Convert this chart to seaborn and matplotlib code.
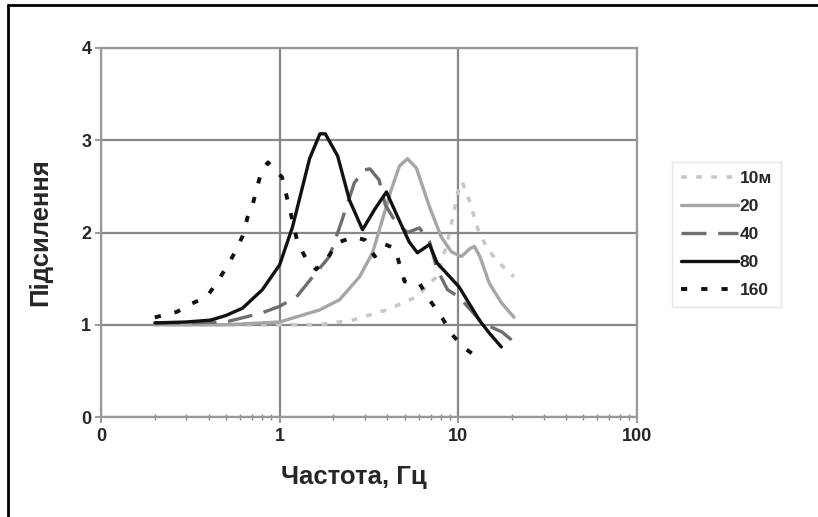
import numpy as np
import pandas as pd
import matplotlib
matplotlib.use("Agg")
import matplotlib.pyplot as plt
from matplotlib.lines import Line2D
from matplotlib.ticker import FixedLocator, FixedFormatter, LogLocator, NullFormatter
import seaborn as sns

# ---- data ----
series_names = ["10м", "20", "40", "80", "160"]

f_10 = [0.2, 0.5, 1.0, 1.67, 2.56, 3.96, 5.82, 7.54, 8.57, 9.25, 10.1, 10.5, 11.5, 12.8, 14.3, 16.3, 18.5, 20.5]
v_10 = [1.0, 1.0, 1.0, 1.0, 1.05, 1.16, 1.3, 1.52, 1.85, 2.14, 2.5, 2.55, 2.35, 2.05, 1.85, 1.7, 1.6, 1.52]

f_20 = [0.2, 0.5, 1.0, 1.67, 2.16, 2.8, 3.31, 3.76, 4.22, 4.68, 5.19, 5.82, 6.89, 8.03, 9.15, 10.4, 11.7, 12.3, 13.2, 14.9, 17.4, 20.5]
v_20 = [1.0, 1.0, 1.03, 1.16, 1.27, 1.52, 1.78, 2.14, 2.47, 2.72, 2.8, 2.7, 2.28, 1.95, 1.79, 1.74, 1.83, 1.85, 1.74, 1.45, 1.24, 1.08]

f_40 = [0.2, 0.3, 0.5, 0.8, 1.0, 1.24, 1.53, 1.9, 2.22, 2.62, 3.0, 3.2, 3.6, 3.9, 4.5, 5.2, 6.05, 6.9, 7.6, 8.7, 10.1, 13.6, 17.6, 20.0]
v_40 = [1.02, 1.02, 1.03, 1.13, 1.2, 1.3, 1.52, 1.74, 2.12, 2.54, 2.68, 2.69, 2.57, 2.3, 2.1, 2.0, 2.05, 1.9, 1.6, 1.38, 1.3, 1.02, 0.92, 0.83]

f_80 = [0.2, 0.3, 0.41, 0.5, 0.62, 0.8, 1.0, 1.18, 1.47, 1.68, 1.8, 2.11, 2.46, 2.91, 3.4, 3.96, 4.5, 5.3, 5.9, 6.9, 7.6, 10.1, 13.1, 14.9, 17.4]
v_80 = [1.02, 1.03, 1.05, 1.1, 1.18, 1.38, 1.65, 2.06, 2.8, 3.07, 3.07, 2.83, 2.35, 2.03, 2.25, 2.44, 2.2, 1.9, 1.78, 1.87, 1.67, 1.41, 1.05, 0.91, 0.76]

f_160 = [0.2, 0.266, 0.322, 0.39, 0.45, 0.506, 0.56, 0.62, 0.66, 0.71, 0.75, 0.79, 0.86, 1.03, 1.14, 1.26, 1.42, 1.6, 1.85, 2.1, 2.6, 3.0, 3.4, 3.9, 4.4, 4.7, 5.0, 6.05, 6.9, 8.15, 9.15, 10.8, 13.1]
v_160 = [1.08, 1.14, 1.23, 1.3, 1.47, 1.63, 1.78, 1.96, 2.16, 2.32, 2.5, 2.66, 2.76, 2.6, 2.25, 1.89, 1.7, 1.6, 1.72, 1.89, 1.95, 1.92, 1.74, 1.87, 1.83, 1.65, 1.47, 1.45, 1.27, 1.07, 0.9, 0.75, 0.63]

x_tick_values = [0.1, 1, 10, 100]
x_tick_labels = ["0", "1", "10", "100"]
y_tick_values = [0, 1, 2, 3, 4]

x_label = "Частота, Гц"
y_label = "Підсилення"

# ---- styling ----
sns.set_theme(style="white")
plt.rcParams["font.family"] = ["Liberation Sans", "DejaVu Sans"]
plt.rcParams["font.weight"] = "bold"

styles = {
    "10м": dict(color="#c8c8c8", lw=2.6, ls=(0, (1.6, 2.6))),
    "20": dict(color="#a6a6a6", lw=2.4, ls="-"),
    "40": dict(color="#6e6e6e", lw=2.4, ls=(0, (7.5, 3.5))),
    "80": dict(color="#111111", lw=2.4, ls="-"),
    "160": dict(color="#111111", lw=2.8, ls=(0, (1.6, 3.6))),
}

data = {"10м": (f_10, v_10), "20": (f_20, v_20), "40": (f_40, v_40),
        "80": (f_80, v_80), "160": (f_160, v_160)}

fig = plt.figure(figsize=(8.18, 5.17), dpi=100)
ax = fig.add_axes([101 / 818, 1 - 417 / 517, (637 - 101) / 818, (417 - 48) / 517])

handles = []
for name in series_names:
    f, v = data[name]
    df = pd.DataFrame({"f": f, "v": v})
    st = styles[name]
    sns.lineplot(data=df, x="f", y="v", ax=ax, color=st["color"], linewidth=st["lw"],
                 sort=False, estimator=None, legend=False)
    ln = ax.lines[-1]
    ln.set_linestyle(st["ls"])
    ln.set_dash_capstyle("butt")
    handles.append(ln)

ax.set_xscale("log")
ax.set_xlim(0.1, 100)
ax.set_ylim(0, 4)

ax.xaxis.set_major_locator(FixedLocator(x_tick_values))
ax.xaxis.set_major_formatter(FixedFormatter(x_tick_labels))
ax.xaxis.set_minor_locator(LogLocator(base=10, subs=np.arange(2, 10)))
ax.xaxis.set_minor_formatter(NullFormatter())
ax.set_yticks(y_tick_values)
ax.set_yticklabels([str(t) for t in y_tick_values])

ax.grid(True, which="major", color="#888888", linewidth=1.6)
ax.set_axisbelow(True)
for s in ax.spines.values():
    s.set_color("#999999")
    s.set_linewidth(1.6)

ax.tick_params(axis="x", which="major", direction="out", length=4, width=1.2, color="#888888",
               labelsize=13, pad=4, bottom=True)
ax.tick_params(axis="x", which="minor", direction="inout", length=5, width=1.0, color="#888888", bottom=True)
ax.tick_params(axis="y", which="major", direction="out", length=4, width=1.2, color="#888888",
               labelsize=13, pad=3, left=True)
for lab in ax.get_xticklabels() + ax.get_yticklabels():
    lab.set_fontweight("bold")

ax.set_xlabel(x_label, fontsize=18.5, fontweight="bold")
ax.set_ylabel(y_label, fontsize=18.5, fontweight="bold")
ax.xaxis.set_label_coords((354 - 101) / 536, -(477 - 417) / 369, transform=ax.transAxes)
ax.xaxis.label.set_va("center")
ax.yaxis.set_label_coords(-(101 - 40) / 536, 0.5, transform=ax.transAxes)
ax.yaxis.label.set_va("center")

leg = fig.legend(handles, series_names, loc="upper left",
                 bbox_to_anchor=(672 / 818, 1 - 162 / 517), bbox_transform=fig.transFigure,
                 frameon=True, fancybox=False, edgecolor="#e6e6e6", framealpha=1,
                 fontsize=12.5, handlelength=3.3, handletextpad=0.1, labelspacing=0.74,
                 borderpad=0.5, borderaxespad=0)
for t in leg.get_texts():
    t.set_fontweight("bold")

# outer frame of the picture
fig.add_artist(Line2D([8 / 818, 8 / 818], [0, 1 - 5 / 517], transform=fig.transFigure, color="black", lw=2))
fig.add_artist(Line2D([8 / 818, 1], [1 - 5 / 517, 1 - 5 / 517], transform=fig.transFigure, color="black", lw=2))

fig.savefig("out.png", dpi=100)
